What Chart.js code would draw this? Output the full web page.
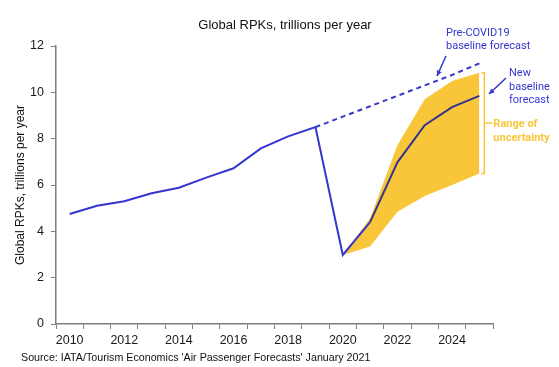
<!DOCTYPE html>
<html>
<head>
<meta charset="utf-8">
<script src="https://cdn.jsdelivr.net/npm/chart.js@4.4.1/dist/chart.umd.min.js"></script>
<style>
  html, body { margin: 0; padding: 0; background: #fff; }
</style>
</head>
<body>
<canvas id="chart" width="559" height="367"></canvas>
<script>
const years = [2010, 2011, 2012, 2013, 2014, 2015, 2016, 2017, 2018, 2019, 2020, 2021, 2022, 2023, 2024, 2025];
const actual = [4.75, 5.1, 5.3, 5.64, 5.88, 6.32, 6.72, 7.58, 8.1, 8.5, 2.98, 4.4, 6.98, 8.58, 9.36, 9.85];
const preCovid = [null, null, null, null, null, null, null, null, null, 8.5, 8.95, 9.4, 9.85, 10.3, 10.75, 11.25];
const rangeUpper = [null, null, null, null, null, null, null, null, null, null, 2.98, 4.56, 7.72, 9.7, 10.49, 10.85];
const rangeLower = [null, null, null, null, null, null, null, null, null, null, 2.98, 3.34, 4.85, 5.52, 6.0, 6.5];

const BLUE = "#3535d0";
const NAVY = "#34348e";
const YELLOW = "#f9c63a";
const AXIS = "#7f7f7f";
const tickFont = { family: "'Liberation Sans', Arial, sans-serif", size: 12.5 };
const noteFont = "11px Roboto, 'Liberation Sans', sans-serif";
const noteBold = "bold 11px Roboto, 'Liberation Sans', sans-serif";

function arrow(ctx, x1, y1, x2, y2, color) {
  ctx.strokeStyle = color;
  ctx.fillStyle = color;
  ctx.lineWidth = 1.5;
  ctx.beginPath();
  ctx.moveTo(x1, y1);
  ctx.lineTo(x2, y2);
  ctx.stroke();
  const a = Math.atan2(y2 - y1, x2 - x1), h = 6;
  ctx.beginPath();
  ctx.moveTo(x2, y2);
  ctx.lineTo(x2 - h * Math.cos(a - 0.45), y2 - h * Math.sin(a - 0.45));
  ctx.lineTo(x2 - h * Math.cos(a + 0.45), y2 - h * Math.sin(a + 0.45));
  ctx.closePath();
  ctx.fill();
}

// title, source line and the callouts on the right
const annotate = {
  id: "annotate",
  afterDraw(chart) {
    const { ctx, scales: { x, y } } = chart;
    ctx.save();
    ctx.textBaseline = "middle";

    ctx.fillStyle = "#111";
    ctx.textAlign = "center";
    ctx.font = "13px 'Liberation Sans', Arial, sans-serif";
    ctx.fillText("Global RPKs, trillions per year", 285, 25);

    ctx.textAlign = "left";
    ctx.font = "10.7px 'Liberation Sans', Arial, sans-serif";
    ctx.fillText("Source: IATA/Tourism Economics 'Air Passenger Forecasts' January 2021", 21, 358);

    ctx.fillStyle = BLUE;
    ctx.font = noteFont;
    ctx.fillText("Pre-COVID19", 446, 33);
    ctx.fillText("baseline forecast", 446, 46);
    arrow(ctx, 446, 56, 437, 76, BLUE);

    ctx.fillText("New", 509, 73);
    ctx.fillText("baseline", 509, 87);
    ctx.fillText("forecast", 509, 100);
    arrow(ctx, 506, 78, 489, 94, BLUE);

    // bracket for the range of uncertainty
    const last = years.length - 1;
    const bx = x.getPixelForValue(last) + 5;
    const top = y.getPixelForValue(rangeUpper[last]);
    const bottom = y.getPixelForValue(rangeLower[last]);
    const mid = (top + bottom) / 2;
    ctx.strokeStyle = YELLOW;
    ctx.lineWidth = 1.5;
    ctx.beginPath();
    ctx.moveTo(bx - 3, top); ctx.lineTo(bx, top); ctx.lineTo(bx, bottom); ctx.lineTo(bx - 3, bottom);
    ctx.moveTo(bx, mid); ctx.lineTo(bx + 8, mid);
    ctx.stroke();
    ctx.fillStyle = YELLOW;
    ctx.font = noteBold;
    ctx.fillText("Range of", bx + 9, mid + 1);
    ctx.fillText("uncertainty", bx + 9, mid + 15);
    ctx.restore();
  }
};

new Chart(document.getElementById("chart"), {
  type: "line",
  data: {
    labels: years,
    datasets: [
      {
        label: "Actual / new baseline",
        data: actual,
        borderColor: BLUE,
        borderWidth: 2,
        pointRadius: 0,
        tension: 0,
        segment: { borderColor: c => (c.p0DataIndex >= 11 ? NAVY : BLUE) }
      },
      {
        label: "Pre-COVID19 baseline",
        data: preCovid,
        borderColor: BLUE,
        borderWidth: 2,
        borderDash: [5, 4],
        pointRadius: 0,
        tension: 0
      },
      {
        label: "Upper",
        data: rangeUpper,
        borderWidth: 0,
        borderColor: YELLOW,
        backgroundColor: YELLOW,
        pointRadius: 0,
        fill: "+1"
      },
      {
        label: "Lower",
        data: rangeLower,
        borderWidth: 0,
        borderColor: YELLOW,
        pointRadius: 0,
        fill: false
      }
    ]
  },
  options: {
    responsive: false,
    animation: false,
    layout: { padding: { top: 46, right: 66, left: 0, bottom: 0 } },
    plugins: { legend: { display: false }, tooltip: { enabled: false } },
    scales: {
      x: {
        type: "category",
        offset: true,
        grid: { offset: true, drawOnChartArea: false, drawTicks: true, tickLength: 5, color: AXIS },
        border: { color: AXIS, width: 1.5 },
        ticks: {
          autoSkip: false,
          maxRotation: 0,
          padding: 4,
          color: "#1a1a1a",
          font: tickFont,
          callback: (v, i) => (years[i] % 2 === 0 ? String(years[i]) : "")
        },
        afterFit: s => { s.height = 43; }
      },
      y: {
        min: 0,
        max: 12,
        grid: { drawOnChartArea: false, drawTicks: true, tickLength: 5, color: AXIS },
        border: { color: AXIS, width: 1.5 },
        ticks: { stepSize: 2, padding: 7, color: "#1a1a1a", font: tickFont },
        title: {
          display: true,
          text: "Global RPKs, trillions per year",
          color: "#111",
          padding: { top: 13, bottom: 0 },
          font: { family: "'Liberation Sans', Arial, sans-serif", size: 12 }
        },
        afterFit: s => { s.width = 56; }
      }
    }
  },
  plugins: [annotate]
});
</script>
</body>
</html>
